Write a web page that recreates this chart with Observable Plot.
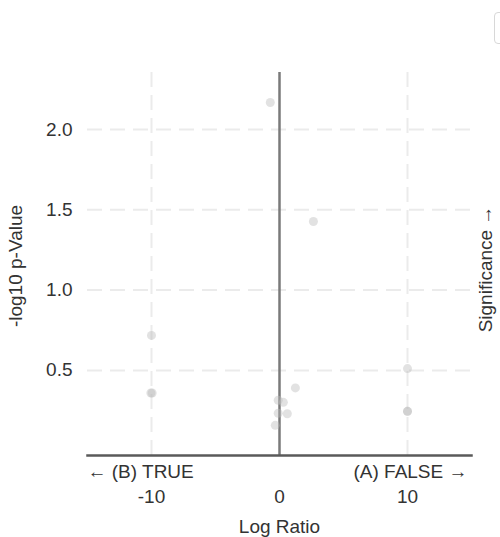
<!DOCTYPE html>
<html>
<head>
<meta charset="utf-8">
<script src="https://cdn.jsdelivr.net/npm/d3@7"></script>
<script src="https://cdn.jsdelivr.net/npm/@observablehq/plot@0.6"></script>
<style>
  html, body { margin: 0; padding: 0; background: #fff; overflow: hidden; }
  #wrap { position: relative; width: 500px; height: 537px; }
  #btn { position: absolute; left: 494px; top: 12px; width: 20px; height: 30px; border: 1px solid #d8d8d8; border-radius: 4px; background: #fff; }
</style>
</head>
<body>
<div id="wrap"><div id="btn"></div></div>
<script>
// Data
const logRatio = [-0.72, 2.65, -10, -10.05, -9.95, 10, 10, 10, 1.24, -0.1, 0.3, 0.61, -0.1, -0.33];
const negLog10P = [2.168, 1.427, 0.718, 0.359, 0.359, 0.511, 0.245, 0.245, 0.391, 0.314, 0.301, 0.230, 0.233, 0.158];
const xTicks = [-10, 0, 10];
const yTicks = [0.5, 1.0, 1.5, 2.0];
const leftLabel = "← (B) TRUE";
const rightLabel = "(A) FALSE →";
const xLabel = "Log Ratio";
const yLabel = "-log10 p-Value";
const sideLabel = "Significance →";

const points = logRatio.map((x, i) => ({x, y: negLog10P[i]}));

const textColor = "#333";
const gridStyle = {stroke: "#ebebeb", strokeOpacity: 1, strokeWidth: 2, strokeDasharray: "15,8"};

const chart = Plot.plot({
  width: 500,
  height: 537,
  marginTop: 72,
  marginBottom: 82,
  marginLeft: 87,
  marginRight: 29,
  style: {fontFamily: "'Liberation Sans', Arial, sans-serif", fontSize: "19px", color: textColor, background: "#fff"},
  x: {domain: [-15, 15]},
  y: {domain: [-0.03, 2.355]},
  marks: [
    Plot.gridX(xTicks.filter(d => d !== 0), gridStyle),
    Plot.gridY(yTicks, {...gridStyle}),
    Plot.ruleX([0], {stroke: "#7a7a7a", strokeWidth: 2.5}),
    Plot.frame({anchor: "bottom", stroke: "#5a5a5a", strokeWidth: 2.5}),
    Plot.dot(points, {x: "x", y: "y", r: 4.5, fill: "#bbbbbb", fillOpacity: 0.42, stroke: "none"}),
    Plot.axisX(xTicks, {tickSize: 0, tickPadding: 34, label: null, tickFormat: d => String(d), fill: textColor, fontSize: 19}),
    Plot.axisY(yTicks, {tickSize: 0, tickPadding: 15, tickFormat: d => d.toFixed(1), label: null, fill: textColor, fontSize: 19}),
    Plot.text([leftLabel], {frameAnchor: "bottom-left", textAnchor: "start", dy: 16, lineAnchor: "middle", fill: textColor, fontSize: 19}),
    Plot.text([rightLabel], {frameAnchor: "bottom-right", textAnchor: "end", dx: -4, dy: 16, lineAnchor: "middle", fill: textColor, fontSize: 19}),
    Plot.text([xLabel], {frameAnchor: "bottom", dy: 71, lineAnchor: "middle", fill: textColor, fontSize: 19}),
    Plot.text([yLabel], {frameAnchor: "left", textAnchor: "middle", dx: -72, dy: 2, rotate: -90, lineAnchor: "middle", fill: textColor, fontSize: 19}),
    Plot.text([sideLabel], {frameAnchor: "right", textAnchor: "middle", dx: 14, dy: 5, rotate: -90, lineAnchor: "middle", fill: textColor, fontSize: 19})
  ]
});
chart.style.position = "absolute";
chart.style.left = "0px";
chart.style.top = "0px";
document.getElementById("wrap").insertBefore(chart, document.getElementById("btn"));
</script>
</body>
</html>
